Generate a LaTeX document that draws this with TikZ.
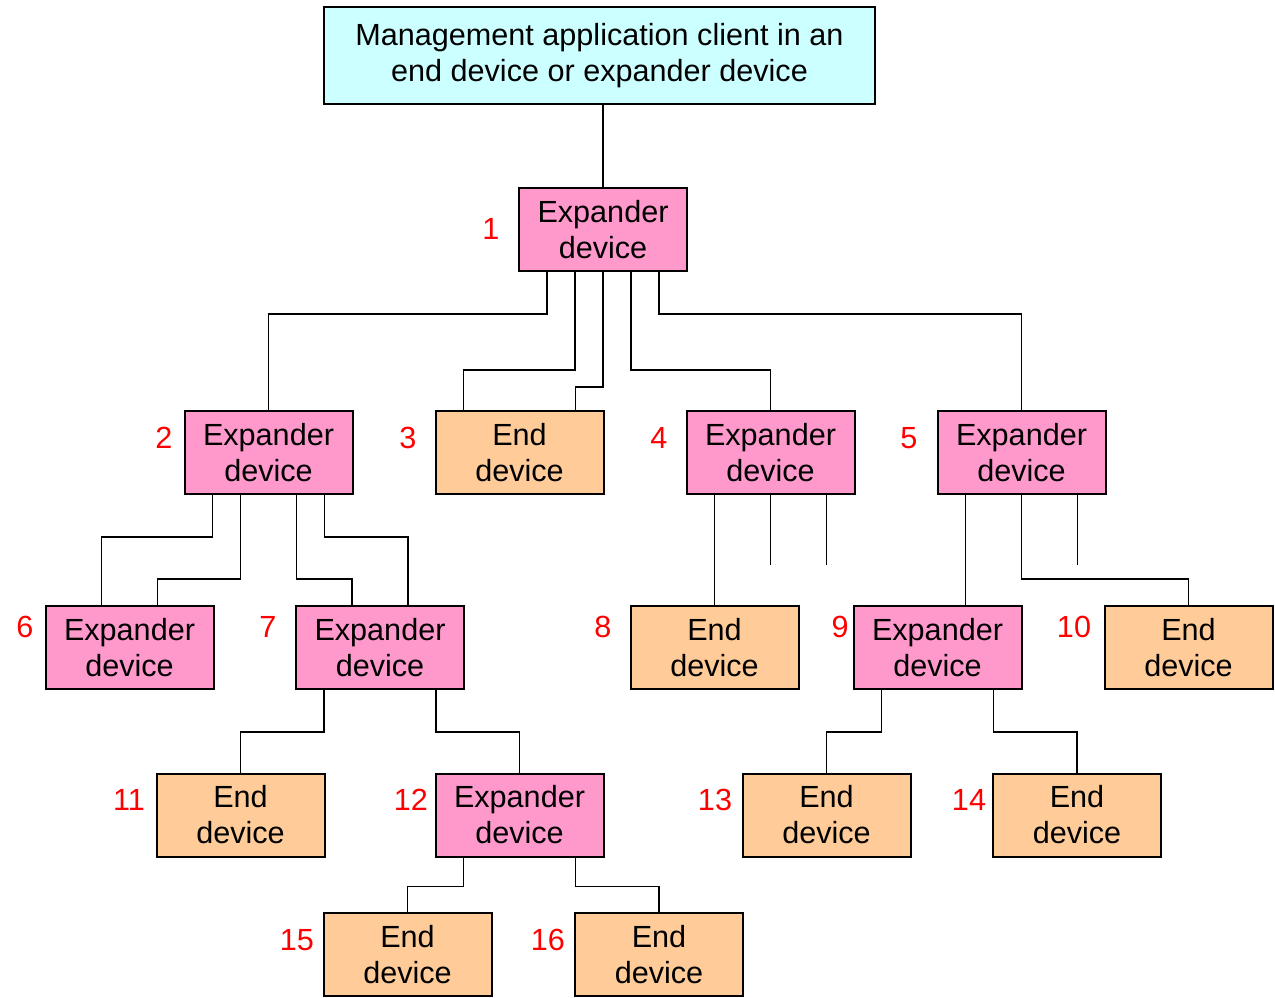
\documentclass[tikz,border=0pt]{standalone}
\usepackage{fontspec}
\setmainfont{Liberation Sans}
\usetikzlibrary{calc}

\definecolor{exppink}{RGB}{255,153,204}
\definecolor{endorange}{RGB}{255,204,153}
\definecolor{topcyan}{RGB}{204,255,255}

\tikzset{
  devbox/.style={draw=black, line width=1pt, minimum width=84pt, minimum height=41.5pt,
    inner sep=0pt, align=center, font=\fontsize{15.3}{18}\selectfont},
  expbox/.style={devbox, fill=exppink},
  endbox/.style={devbox, fill=endorange},
  num/.style={text=red, inner sep=0pt, font=\fontsize{15.3}{18}\selectfont},
  wire/.style={black, line width=0.9pt},
}

\begin{document}
\begin{tikzpicture}[x=0.5pt, y=-0.5pt]
\useasboundingbox (0,0) rectangle (1275,997);

% client at the top
\node[devbox, fill=topcyan, minimum width=275.5pt, minimum height=48.5pt] (top) at (599.5,55.5)
  {Management application client in an\\end device or expander device};

% expander devices
\foreach \n/\x/\y in {1/603/229.5, 2/268.5/452.5, 4/770.5/452.5, 5/1021.5/452.5,
  6/129.5/647.5, 7/380/647.5, 9/937.5/647.5, 12/519.5/815} {
 \node[expbox] (e\n) at (\x,\y) {Expander\\device};
}
% end devices
\foreach \n/\x/\y in {3/519.5/452.5, 8/714.5/647.5, 10/1188.5/647.5, 11/240.5/815,
  13/826.5/815, 14/1077/815, 15/407.5/954.5, 16/659/954.5} {
 \node[endbox] (e\n) at (\x,\y) {End\\device};
}
% numbers
\foreach \n/\x/\y in {1/491/229, 2/164/438, 3/408/438, 4/659/438, 5/909/438,
  6/25/627, 7/268/627, 8/603/627, 9/840/627, 10/1074/627,
  11/129/800, 12/411/800, 13/715/800, 14/969/800, 15/297/940, 16/548/940} {
 \node[num] (n\n) at (\x,\y) {\n};
}

% links
\draw[wire] (e1.north) -- (e1.north |- top.south);

\draw[wire] ($(e1.south)+(-56,0)$) -- ++(0,42) -| (e2.north);
\draw[wire] ($(e1.south)+(-28,0)$) -- ++(0,98) -| ($(e3.north)+(-56,0)$);
\draw[wire] (e1.south) -- ++(0,115) -| ($(e3.north)+(56,0)$);
\draw[wire] ($(e1.south)+(28,0)$) -- ++(0,98) -| (e4.north);
\draw[wire] ($(e1.south)+(56,0)$) -- ++(0,42) -| (e5.north);

\draw[wire] ($(e2.south)+(-56,0)$) -- ++(0,42) -| ($(e6.north)+(-28,0)$);
\draw[wire] ($(e2.south)+(-28,0)$) -- ++(0,84) -| ($(e6.north)+(28,0)$);
\draw[wire] ($(e2.south)+(28,0)$) -- ++(0,84) -| ($(e7.north)+(-28,0)$);
\draw[wire] ($(e2.south)+(56,0)$) -- ++(0,42) -| ($(e7.north)+(28,0)$);

\coordinate (o4a) at ($(e4.south)+(0,70)$);
\coordinate (o4b) at ($(e4.south)+(56,70)$);
\coordinate (o5a) at ($(e5.south)+(56,70)$);
\draw[wire] ($(e4.south)+(-56,0)$) -- (e8.north);
\draw[wire] (e4.south) -- (o4a);
\draw[wire] (o4b |- e4.south) -- (o4b);

\draw[wire] ($(e5.south)+(-56,0)$) -- ($(e9.north)+(28,0)$);
\draw[wire] (e5.south) -- ++(0,84) -| (e10.north);
\draw[wire] (o5a |- e5.south) -- (o5a);

\draw[wire] ($(e7.south)+(-56,0)$) -- ++(0,42) -| (e11.north);
\draw[wire] ($(e7.south)+(56,0)$) -- ++(0,42) -| (e12.north);

\draw[wire] ($(e9.south)+(-56,0)$) -- ++(0,42) -| (e13.north);
\draw[wire] ($(e9.south)+(56,0)$) -- ++(0,42) -| (e14.north);

\draw[wire] ($(e12.south)+(-56,0)$) -- ++(0,29) -| (e15.north);
\draw[wire] ($(e12.south)+(56,0)$) -- ++(0,29) -| (e16.north);
\end{tikzpicture}
\end{document}
